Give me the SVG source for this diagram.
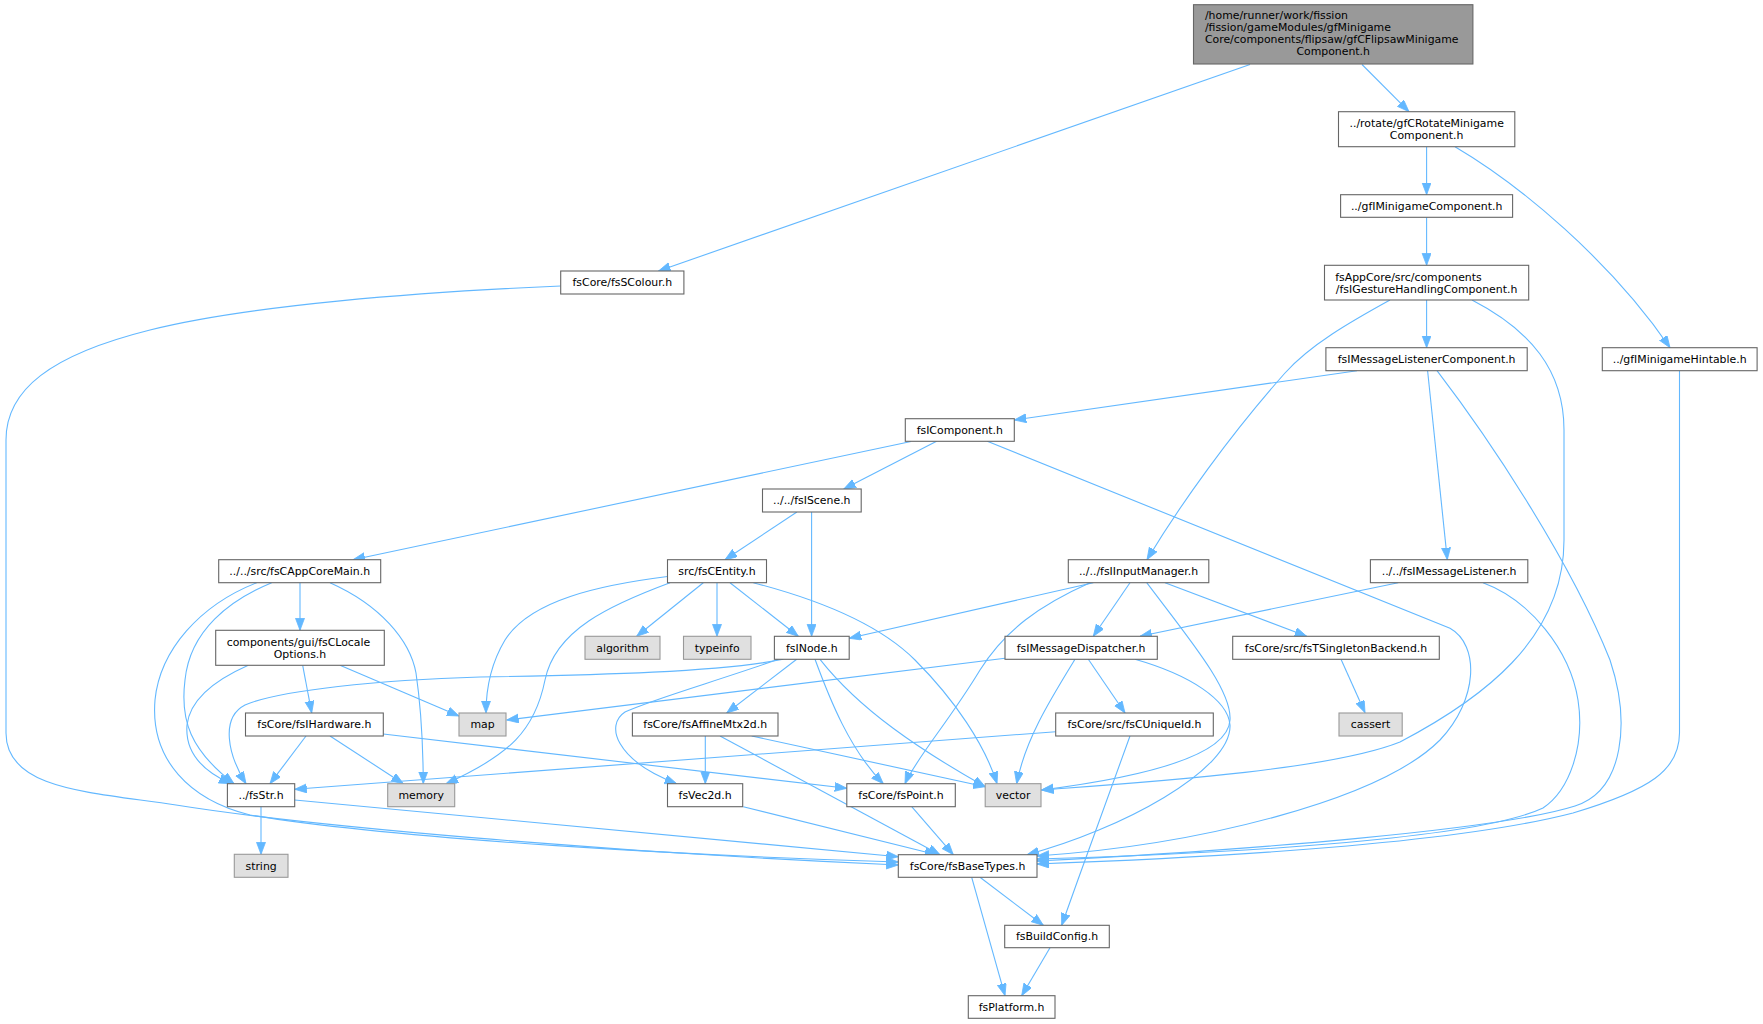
<svg xmlns="http://www.w3.org/2000/svg" width="1763" height="1024" viewBox="0 0 1763 1024">
<style>
.n rect{fill:#fff;stroke:#666;stroke-width:1.1}
.n.g rect{fill:#e0e0e0;stroke:#999}
.n.root rect{fill:#999;stroke:#666}
.n text{font-family:"DejaVu Sans","Liberation Sans",sans-serif;font-size:10.9px;fill:#000}
.c{text-anchor:middle}
#edges path{fill:none;stroke:#63b8ff;stroke-width:1.1;marker-end:url(#ah)}
</style>
<defs>
<marker id="ah" markerUnits="userSpaceOnUse" markerWidth="13" markerHeight="10" refX="12" refY="4.5" orient="auto">
<path d="M0,0 L12,4.5 L0,9 z" fill="#63b8ff" stroke="#63b8ff" stroke-width="0.8"/>
</marker>
</defs>
<rect width="1763" height="1024" fill="#fff"/>
<g id="edges">
<path d="M1250,64.5 L658.5,271"/>
<path d="M1362,64.5 L1409,111.7"/>
<path d="M1426.6,146.7 L1426.6,194.7"/>
<path d="M1455,146.7 C1520,185 1610,260 1670,347.7"/>
<path d="M1426.6,217.3 L1426.6,265.3"/>
<path d="M1426.6,300 L1426.6,347.7"/>
<path d="M1390,300 C1350,322 1310,345 1285,373 C1230,435 1180,505 1147,559.7"/>
<path d="M1472,300 C1530,330 1564,370 1564,430 L1564,540 C1564,640 1480,700 1400,742 C1330,770 1150,782 1041.5,790"/>
<path d="M1357,370.7 L1014.3,420"/>
<path d="M1427.6,370.7 L1447.3,559.7"/>
<path d="M1437,370.7 C1490,440 1570,560 1610,660 C1630,720 1625,790 1575,806 C1500,830 1250,850 1037,861"/>
<path d="M1679.5,370.7 L1679.5,733 C1679.5,770 1650,790 1573,813 C1450,845 1200,858 1037,864"/>
<path d="M560.7,286 C420,292 250,305 150,330 C50,355 6,390 6,440 L6,733 C6,790 90,792 176,805 C300,825 600,852 898.3,865"/>
<path d="M911,441.5 L353,559.7"/>
<path d="M936.6,441.3 L843.8,489"/>
<path d="M987.3,441.3 L1450,628.3 C1480,645 1478,700 1440,740 C1380,800 1200,845 1037,856"/>
<path d="M796.9,512 L725,559.7"/>
<path d="M811.6,512 L811.6,636.3"/>
<path d="M300,582.7 L300,630.3"/>
<path d="M271.7,582.7 C230,600 190,630 185,680 C180,720 190,750 234,783.7"/>
<path d="M256.7,582.7 C200,605 160,650 155,700 C150,760 190,800 250,815 C400,840 700,856 898.3,862"/>
<path d="M330,582.7 C380,605 410,640 416,673 C420,700 423,740 423.3,783.7"/>
<path d="M302.7,665.3 L311.7,713"/>
<path d="M340,665.3 L459,716"/>
<path d="M248.3,665.3 C215,680 190,700 187,725 C185,750 200,770 231,783.7"/>
<path d="M306,736 L270,783.7"/>
<path d="M330,736 L403.3,783.7"/>
<path d="M383.3,734 L846.8,788.3"/>
<path d="M667.5,576.5 C600,585 530,600 505,640 C490,665 486,690 486,713"/>
<path d="M670,582.7 C610,605 555,630 545,680 C535,730 510,755 446,783.7"/>
<path d="M703.3,582.7 L636.7,636.3"/>
<path d="M717,582.7 L717,636.3"/>
<path d="M730,582.7 L798.3,636.3"/>
<path d="M753.3,582.7 C820,600 880,625 915,660 C955,700 985,745 997,783.7"/>
<path d="M783.3,659.3 C720,672 600,675 480,677 C380,680 280,690 245,705 C220,718 228,755 246,783.7"/>
<path d="M796.7,659.3 L726.7,713"/>
<path d="M778.3,659.3 C720,680 650,700 625,712 C605,725 615,760 676.7,783.7"/>
<path d="M815,659.3 C830,700 850,750 883.3,783.7"/>
<path d="M820,659.3 C860,710 920,750 985.2,786.7"/>
<path d="M1093.3,582.7 L849.2,638.3"/>
<path d="M1130,582.7 L1093.3,636.3"/>
<path d="M1165,582.7 L1306.7,636.3"/>
<path d="M1090,582.7 C1040,605 1005,630 980,670 C950,720 915,760 905,783.7"/>
<path d="M1146.7,582.7 C1190,640 1232,690 1230,720 C1228,760 1120,780 1041.5,790"/>
<path d="M1398.2,582.7 L1140,636.3"/>
<path d="M1483,582.7 C1530,600 1570,650 1578,700 C1585,745 1570,790 1543,808 C1480,838 1250,853 1037,859"/>
<path d="M1005,658.3 L506.7,720"/>
<path d="M1088.3,659.3 L1125,713"/>
<path d="M1075,659.3 C1050,700 1025,740 1016.7,783.7"/>
<path d="M1135,659.3 C1190,675 1228,700 1230,725 C1232,770 1120,830 1027,854.7"/>
<path d="M1341,659.3 L1365,712.7"/>
<path d="M1055.7,731.7 L294.7,789.3"/>
<path d="M1130,736 C1110,790 1085,860 1061.7,925.3"/>
<path d="M705.3,736 L705.3,783.7"/>
<path d="M751.7,736 L985.2,786.7"/>
<path d="M720,736 L940,854.7"/>
<path d="M261,806.7 L261,854.3"/>
<path d="M294.7,800 L898.3,856.7"/>
<path d="M743.3,806.7 L936.7,854.7"/>
<path d="M911.7,806.7 L953.3,854.7"/>
<path d="M980,877.3 L1043.3,925.3"/>
<path d="M971.7,877.3 L1005,995.7"/>
<path d="M1050,947.7 L1021.7,995.7"/>
</g>
<g id="n_main" class="n root"><rect x="1193.5" y="4.7" width="279.4" height="59.3"/><text x="1204.9" y="19.3">/home/runner/work/fission</text><text x="1204.9" y="31.3">/fission/gameModules/gfMinigame</text><text x="1204.9" y="43.3">Core/components/flipsaw/gfCFlipsawMinigame</text><text class="c" x="1333.2" y="55.3">Component.h</text></g>
<g id="n_rotate" class="n"><rect x="1338.5" y="111.7" width="176.3" height="35"/><text x="1349.5" y="127.1">../rotate/gfCRotateMinigame</text><text class="c" x="1426.6" y="139.1">Component.h</text></g>
<g id="n_gfimc" class="n"><rect x="1340.6" y="194.7" width="172" height="22.6"/><text class="c" x="1426.6" y="209.9">../gfIMinigameComponent.h</text></g>
<g id="n_gesture" class="n"><rect x="1324.5" y="265.3" width="204.2" height="34.7"/><text x="1335.2" y="280.6">fsAppCore/src/components</text><text class="c" x="1426.6" y="292.6">/fsIGestureHandlingComponent.h</text></g>
<g id="n_scolour" class="n"><rect x="560.7" y="271" width="123.2" height="23"/><text class="c" x="622.3" y="286.4">fsCore/fsSColour.h</text></g>
<g id="n_mlc" class="n"><rect x="1325.9" y="347.7" width="201.3" height="23"/><text class="c" x="1426.6" y="363.1">fsIMessageListenerComponent.h</text></g>
<g id="n_hint" class="n"><rect x="1602.3" y="347.7" width="154.8" height="23"/><text class="c" x="1679.7" y="363.1">../gfIMinigameHintable.h</text></g>
<g id="n_comp" class="n"><rect x="905.3" y="418.7" width="109" height="22.6"/><text class="c" x="959.8" y="433.9">fsIComponent.h</text></g>
<g id="n_scene" class="n"><rect x="762.5" y="489" width="98.7" height="23"/><text class="c" x="811.8" y="504.4">../../fsIScene.h</text></g>
<g id="n_appmain" class="n"><rect x="218.7" y="559.7" width="162" height="23"/><text class="c" x="299.7" y="575.1">../../src/fsCAppCoreMain.h</text></g>
<g id="n_entity" class="n"><rect x="667.5" y="559.7" width="99" height="23"/><text class="c" x="717" y="575.1">src/fsCEntity.h</text></g>
<g id="n_input" class="n"><rect x="1068.3" y="559.7" width="140.5" height="23"/><text class="c" x="1138.5" y="575.1">../../fsIInputManager.h</text></g>
<g id="n_ml" class="n"><rect x="1370.4" y="559.7" width="157.4" height="23"/><text class="c" x="1449.1" y="575.1">../../fsIMessageListener.h</text></g>
<g id="n_locale" class="n"><rect x="215.7" y="630.3" width="168.6" height="35"/><text x="226.7" y="645.7">components/gui/fsCLocale</text><text class="c" x="300" y="657.7">Options.h</text></g>
<g id="n_algorithm" class="n g"><rect x="585" y="636.3" width="75" height="23"/><text class="c" x="622.5" y="651.7">algorithm</text></g>
<g id="n_typeinfo" class="n g"><rect x="683.5" y="636.3" width="67.5" height="23"/><text class="c" x="717.2" y="651.7">typeinfo</text></g>
<g id="n_inode" class="n"><rect x="774.4" y="636.3" width="74.8" height="23"/><text class="c" x="811.8" y="651.7">fsINode.h</text></g>
<g id="n_disp" class="n"><rect x="1005" y="636.3" width="152.3" height="23"/><text class="c" x="1081.1" y="651.7">fsIMessageDispatcher.h</text></g>
<g id="n_single" class="n"><rect x="1232.7" y="636.3" width="206.6" height="23"/><text class="c" x="1336" y="651.7">fsCore/src/fsTSingletonBackend.h</text></g>
<g id="n_hw" class="n"><rect x="245.5" y="713" width="137.8" height="23"/><text class="c" x="314.4" y="728.4">fsCore/fsIHardware.h</text></g>
<g id="n_map" class="n g"><rect x="459" y="713" width="47" height="23"/><text class="c" x="482.5" y="728.4">map</text></g>
<g id="n_affine" class="n"><rect x="632.4" y="713" width="145.6" height="23"/><text class="c" x="705.2" y="728.4">fsCore/fsAffineMtx2d.h</text></g>
<g id="n_uid" class="n"><rect x="1055.7" y="713" width="157.6" height="23"/><text class="c" x="1134.5" y="728.4">fsCore/src/fsCUniqueId.h</text></g>
<g id="n_cassert" class="n g"><rect x="1339" y="713" width="63.2" height="23"/><text class="c" x="1370.6" y="728.4">cassert</text></g>
<g id="n_str" class="n"><rect x="227.4" y="783.7" width="67.3" height="23"/><text class="c" x="261" y="799.1">../fsStr.h</text></g>
<g id="n_memory" class="n g"><rect x="387.7" y="783.7" width="67" height="23"/><text class="c" x="421.2" y="799.1">memory</text></g>
<g id="n_vec2d" class="n"><rect x="667.5" y="783.7" width="75.2" height="23"/><text class="c" x="705.1" y="799.1">fsVec2d.h</text></g>
<g id="n_point" class="n"><rect x="846.8" y="783.7" width="108.5" height="23"/><text class="c" x="901" y="799.1">fsCore/fsPoint.h</text></g>
<g id="n_vector" class="n g"><rect x="985.2" y="783.7" width="55.8" height="23"/><text class="c" x="1013.1" y="799.1">vector</text></g>
<g id="n_string" class="n g"><rect x="234.3" y="854.3" width="53.7" height="23"/><text class="c" x="261.1" y="869.7">string</text></g>
<g id="n_base" class="n"><rect x="898.3" y="854.7" width="138.7" height="22.6"/><text class="c" x="967.6" y="869.9">fsCore/fsBaseTypes.h</text></g>
<g id="n_build" class="n"><rect x="1004.7" y="925.3" width="104.6" height="22.4"/><text class="c" x="1057" y="940.4">fsBuildConfig.h</text></g>
<g id="n_platform" class="n"><rect x="968.3" y="995.7" width="86.7" height="22.6"/><text class="c" x="1011.6" y="1010.9">fsPlatform.h</text></g>
</svg>
